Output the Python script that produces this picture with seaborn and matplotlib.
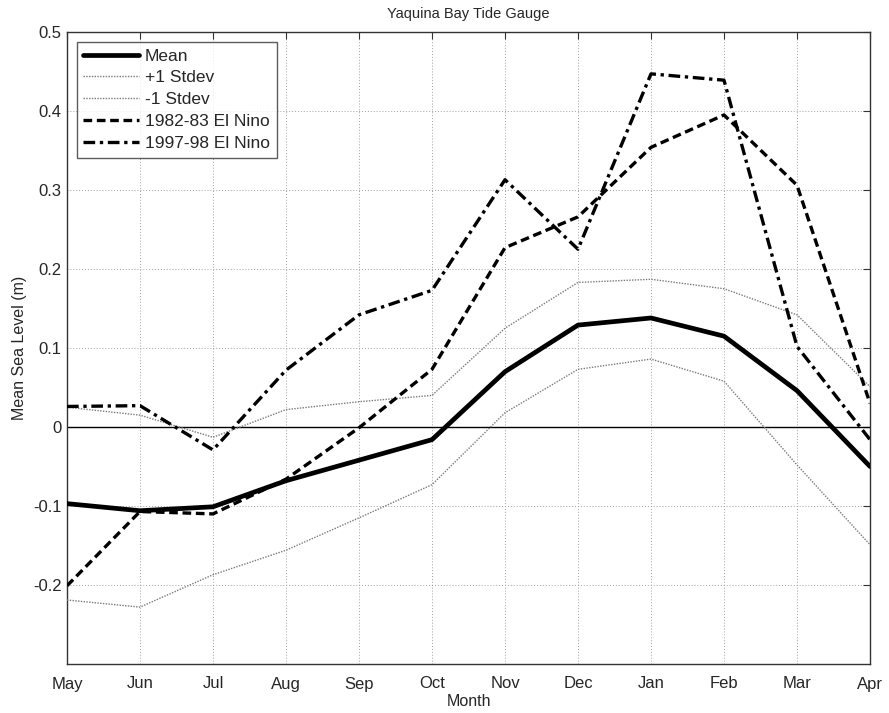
import matplotlib
matplotlib.use("Agg")
import matplotlib.pyplot as plt
import seaborn as sns
import pandas as pd
import numpy as np

months = ["May", "Jun", "Jul", "Aug", "Sep", "Oct", "Nov", "Dec", "Jan", "Feb", "Mar", "Apr"]
mean_vals = [-0.097, -0.106, -0.101, -0.068, -0.042, -0.016, 0.070, 0.129, 0.138, 0.115, 0.046, -0.050]
plus1_vals = [0.025, 0.015, -0.013, 0.022, 0.032, 0.040, 0.125, 0.183, 0.187, 0.175, 0.142, 0.051]
minus1_vals = [-0.219, -0.228, -0.187, -0.156, -0.115, -0.073, 0.018, 0.073, 0.086, 0.058, -0.048, -0.149]
nino8283_vals = [-0.201, -0.107, -0.110, -0.066, -0.001, 0.073, 0.227, 0.266, 0.354, 0.395, 0.306, 0.030]
nino9798_vals = [0.026, 0.027, -0.029, 0.072, 0.142, 0.173, 0.313, 0.225, 0.447, 0.439, 0.102, -0.016]

sns.set_theme(style="white")
plt.rcParams['font.family'] = ['Liberation Sans', 'DejaVu Sans']

fig = plt.figure(figsize=(8.89, 7.13), dpi=100)
ax = fig.add_axes([67/889, 1-664/713, (870-67)/889, (664-32)/713])

idx = np.arange(len(months))
series = [
    ("Mean", mean_vals, dict(color="black", lw=3.4, ls="-")),
    ("+1 Stdev", plus1_vals, dict(color="#7a7a7a", lw=1.0, ls=(0, (1, 1)))),
    ("-1 Stdev", minus1_vals, dict(color="#7a7a7a", lw=1.0, ls=(0, (1, 1)))),
    ("1982-83 El Nino", nino8283_vals, dict(color="black", lw=2.4, ls=(0, (2.6, 1.4)))),
    ("1997-98 El Nino", nino9798_vals, dict(color="black", lw=2.4, ls=(0, (3.5, 1.4, 1, 1.4)))),
]

ax.axhline(0, color="black", lw=1.0, zorder=1)
for name, vals, st in series:
    df = pd.DataFrame({"x": idx, "y": vals})
    sns.lineplot(data=df, x="x", y="y", ax=ax, label=name, color=st["color"],
                 linewidth=st["lw"], linestyle=st["ls"], zorder=3)

ax.set_xlim(0, 11)
ax.set_ylim(-0.3, 0.5)
ax.set_xticks(idx)
ax.set_xticklabels(months)
yt = [-0.2, -0.1, 0, 0.1, 0.2, 0.3, 0.4, 0.5]
ax.set_yticks(yt)
ax.set_yticklabels(["-0.2", "-0.1", "0", "0.1", "0.2", "0.3", "0.4", "0.5"])
ax.grid(True, color="#a0a0a0", ls=(0, (1, 2)), lw=0.7)
ax.tick_params(direction="in", length=5, width=0.8, color="#333333", top=True, right=True,
               labelsize=12)
ax.tick_params(axis="x", pad=9)
ax.tick_params(axis="y", pad=4)
for sp in ax.spines.values():
    sp.set_color("#333333")
    sp.set_linewidth(1.0)

ax.set_xlabel("Month", fontsize=11.5, labelpad=2)
ax.set_ylabel("Mean Sea Level (m)", fontsize=11.5, labelpad=4)
ax.set_title("Yaquina Bay Tide Gauge", fontsize=10.5, pad=10)

leg = ax.legend(loc="upper left", fontsize=12.5, handlelength=3.2, frameon=True, fancybox=False,
                edgecolor="#333333", borderpad=0.4, labelspacing=0.38, handletextpad=0.35,
                borderaxespad=0.55)
leg.get_frame().set_linewidth(1.0)

fig.savefig("out.png", dpi=100)
